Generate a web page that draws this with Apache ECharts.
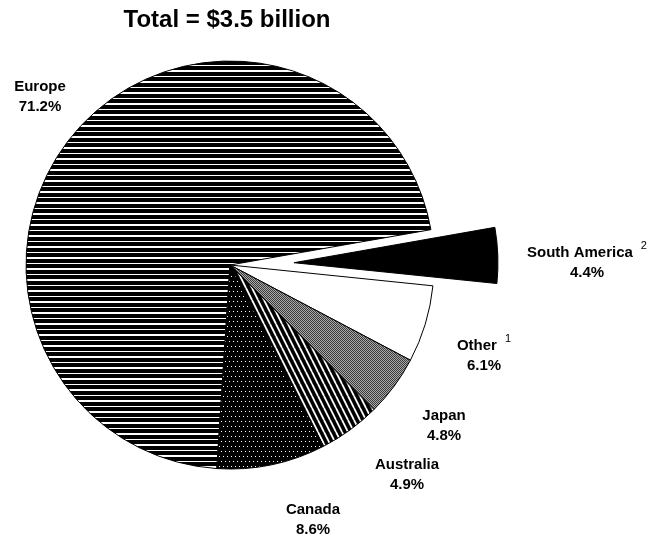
<!DOCTYPE html>
<html>
<head>
<meta charset="utf-8">
<title>Total = $3.5 billion</title>
<script src="https://cdn.jsdelivr.net/npm/echarts@6/dist/echarts.min.js"></script>
<style>
  html, body { margin: 0; padding: 0; background: #fff; }
  #chart { width: 652px; height: 536px; }
</style>
</head>
<body>
<div id="chart"></div>
<script>
// data
const regions = ['Europe', 'South America', 'Other', 'Japan', 'Australia', 'Canada']
const shares = [71.2, 4.4, 6.1, 4.8, 4.9, 8.6]
const notes = ['', '2', '1', '', '', '']

// where each label sits (centre of the two-line block)
const labelXY = [[40, 97], [587, 263], [484, 356], [444, 426], [407, 475], [313, 520]]

const CENTER = [230, 265]
const RADIUS = 204
const START = 266.3
const EXPLODE = 1 // index of the pulled-out slice
const EXPLODE_DIST = 64

// small canvas tiles used as hatch fills
function tile (w, h, draw) {
  const c = document.createElement('canvas')
  c.width = w
  c.height = h
  const ctx = c.getContext('2d')
  ctx.fillStyle = '#000'
  ctx.fillRect(0, 0, w, h)
  draw(ctx)
  return { image: c, repeat: 'repeat' }
}

// horizontal stripes
const stripes = tile(4, 11, ctx => {
  ctx.fillStyle = '#fff'
  ctx.fillRect(0, 4, 4, 2)
  ctx.fillRect(0, 10, 4, 1)
})
// white dots on black
const dots = tile(8, 10, ctx => {
  ctx.fillStyle = '#fff'
  ctx.fillRect(1, 1, 1, 1)
  ctx.fillRect(5, 1, 1, 1)
  ctx.fillRect(3, 6, 1, 1)
  ctx.fillRect(7, 6, 1, 1)
})
// fine grey checker
const grey = tile(2, 2, ctx => {
  ctx.fillStyle = '#3a3a3a'
  ctx.fillRect(0, 0, 2, 2)
  ctx.fillStyle = '#aaa'
  ctx.fillRect(1, 0, 1, 1)
  ctx.fillRect(0, 1, 1, 1)
})
// steep diagonal lines
const diag = tile(6, 12, ctx => {
  ctx.strokeStyle = '#fff'
  ctx.lineWidth = 1.8
  for (const k of [-6, 0, 6]) {
    ctx.beginPath()
    ctx.moveTo(k, 0)
    ctx.lineTo(k + 6, 12)
    ctx.stroke()
  }
})

const fills = [stripes, '#000', '#fff', grey, diag, dots]

// the exploded slice is drawn by a second pie whose centre is pushed out
// along the slice's mid angle
const total = shares.reduce((a, b) => a + b, 0)
const before = shares.slice(0, EXPLODE).reduce((a, b) => a + b, 0)
const mid = (START - 360 * (before + shares[EXPLODE] / 2) / total) * Math.PI / 180
const center2 = [CENTER[0] + EXPLODE_DIST * Math.cos(mid), CENTER[1] - EXPLODE_DIST * Math.sin(mid)]

const hidden = { color: 'transparent', borderWidth: 0 }

const chart = echarts.init(document.getElementById('chart'))
chart.setOption({
  animation: false,
  textStyle: { fontFamily: 'Liberation Sans, Arial, sans-serif' },
  title: {
    text: 'Total = $3.5 billion',
    left: 227,
    top: 8,
    padding: 0,
    textAlign: 'center',
    textStyle: { fontSize: 24, fontWeight: 'bold', color: '#000' }
  },
  series: [{
    type: 'pie',
    center: CENTER,
    radius: RADIUS,
    startAngle: START,
    clockwise: true,
    avoidLabelOverlap: false,
    emphasis: { disabled: true },
    itemStyle: { borderColor: '#000', borderWidth: 1 },
    label: {
      position: 'inside',
      color: '#000',
      formatter: p => {
        const i = p.dataIndex
        const sup = notes[i] ? '{sup|' + notes[i] + '}' : ''
        return '{n|' + p.name + '}' + sup + '\n{n|' + p.value.toFixed(1) + '%}'
      },
      rich: {
        n: { fontSize: 15, fontWeight: 'bold', lineHeight: 20, color: '#000' },
        // small box pinned to the top of the line lifts the footnote mark
        sup: {
          fontSize: 11,
          fontWeight: 'normal',
          lineHeight: 7,
          height: 5,
          verticalAlign: 'top',
          padding: [0, 0, 0, 8],
          color: '#000'
        }
      }
    },
    labelLine: { show: false },
    labelLayout: p => ({
      x: labelXY[p.dataIndex][0],
      y: labelXY[p.dataIndex][1],
      align: 'center',
      verticalAlign: 'middle'
    }),
    data: regions.map((name, i) => ({
      name,
      value: shares[i],
      itemStyle: i === EXPLODE ? hidden : { color: fills[i] }
    }))
  }, {
    type: 'pie',
    silent: true,
    center: center2,
    radius: RADIUS,
    startAngle: START,
    clockwise: true,
    emphasis: { disabled: true },
    itemStyle: { borderColor: '#000', borderWidth: 1 },
    label: { show: false },
    labelLine: { show: false },
    data: regions.map((name, i) => ({
      name,
      value: shares[i],
      itemStyle: i === EXPLODE ? { color: fills[i] } : hidden
    }))
  }]
})
</script>
</body>
</html>
